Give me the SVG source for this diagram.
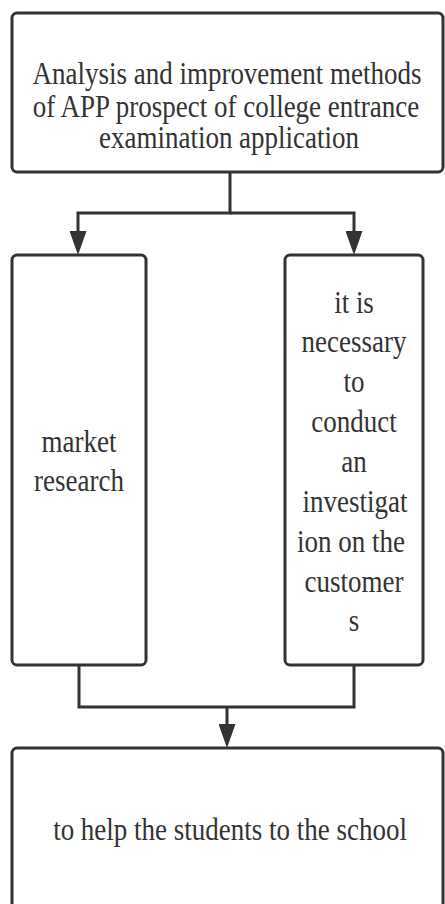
<svg xmlns="http://www.w3.org/2000/svg" width="445" height="904" viewBox="0 0 445 904">
<style>
.box{fill:#fff;stroke:#333;stroke-width:3}
.lbl{font-family:"Liberation Serif","Times New Roman",serif;font-size:27px;fill:#333;text-anchor:middle}
.con{fill:none;stroke:#333;stroke-width:3}
</style>
<defs>
<marker id="arr" viewBox="0 0 24 17" markerWidth="24" markerHeight="17" refX="14" refY="8.5" orient="auto" markerUnits="userSpaceOnUse">
<path d="M0,0 L24,8.5 L0,17 z" fill="#333"/>
</marker>
</defs>
<rect width="445" height="904" fill="#fff"/>
<g id="connectors">
<path class="con" d="M230,172 V213 H78 V245" marker-end="url(#arr)"/>
<path class="con" d="M230,213 H354 V245" marker-end="url(#arr)"/>
<path class="con" d="M79,665 V707 H354 V665"/>
<path class="con" d="M227,707 V738" marker-end="url(#arr)"/>
</g>
<g id="title">
<rect class="box" x="12" y="13" width="431" height="159" rx="5"/>
<text class="lbl" transform="translate(227,84) scale(1,1.15)">Analysis and improvement methods</text>
<text class="lbl" transform="translate(226,117) scale(1,1.15)">of APP prospect of college entrance</text>
<text class="lbl" transform="translate(229,148) scale(1,1.15)">examination application</text>
</g>
<g id="market">
<rect class="box" x="12" y="255" width="134" height="410" rx="5"/>
<text class="lbl" transform="translate(79,452) scale(1,1.15)">market</text>
<text class="lbl" transform="translate(79,491) scale(1,1.15)">research</text>
</g>
<g id="customers">
<rect class="box" x="285" y="255" width="138" height="410" rx="5"/>
<text class="lbl" transform="translate(354,313) scale(1,1.15)">it is</text>
<text class="lbl" transform="translate(354,352) scale(1,1.15)">necessary</text>
<text class="lbl" transform="translate(354,392) scale(1,1.15)">to</text>
<text class="lbl" transform="translate(354,432) scale(1,1.15)">conduct</text>
<text class="lbl" transform="translate(354,472) scale(1,1.15)">an</text>
<text class="lbl" transform="translate(355,512) scale(1,1.15)">investigat</text>
<text class="lbl" transform="translate(351,552) scale(1,1.15)">ion on the</text>
<text class="lbl" transform="translate(354,592) scale(1,1.15)">customer</text>
<text class="lbl" transform="translate(354,631) scale(1,1.15)">s</text>
</g>
<g id="result">
<rect class="box" x="12" y="748" width="431" height="170" rx="5"/>
<text class="lbl" transform="translate(230,840) scale(1,1.15)">to help the students to the school</text>
</g>
</svg>
